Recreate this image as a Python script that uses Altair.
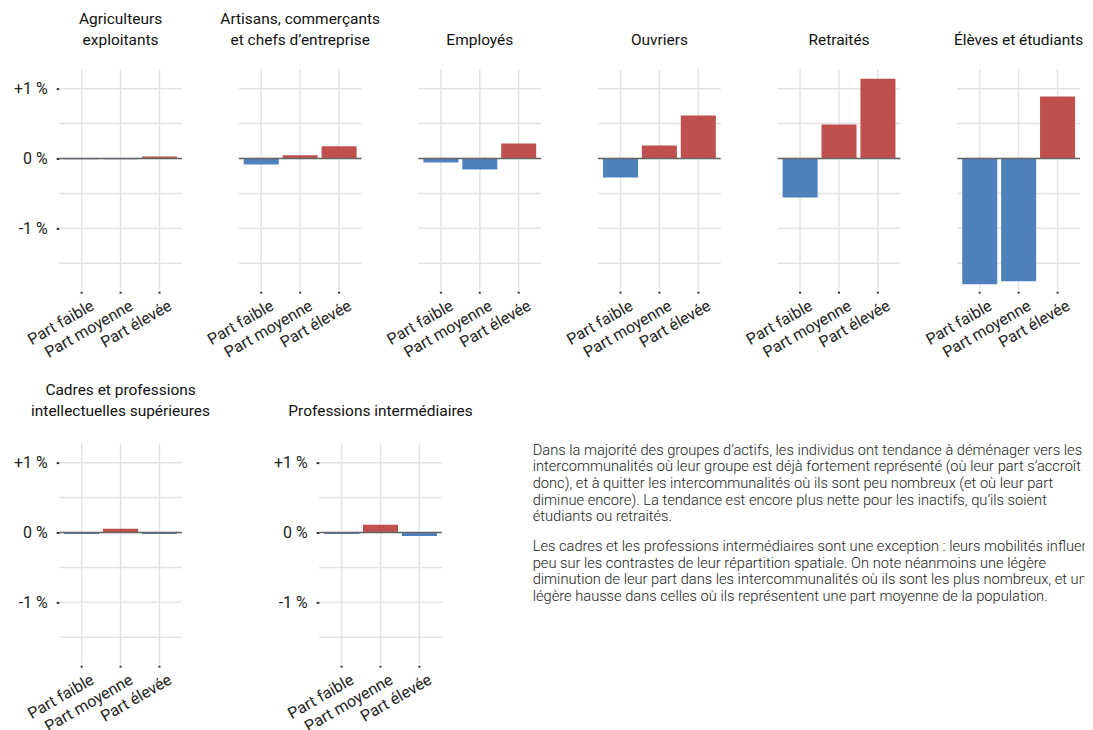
import altair as alt
import pandas as pd

categories = ["Part faible", "Part moyenne", "Part élevée"]

top_titles = [["Agriculteurs", "exploitants"], ["Artisans, commerçants", "et chefs d’entreprise"],
              ["Employés"], ["Ouvriers"], ["Retraités"], ["Élèves et étudiants"]]
bottom_titles = [["Cadres et professions", "intellectuelles supérieures"], ["Professions intermédiaires"]]

# variation of the group's share (points of %) by initial share
values_agri = [-0.01, -0.01, 0.03]
values_artisans = [-0.085, 0.047, 0.176]
values_employes = [-0.057, -0.157, 0.214]
values_ouvriers = [-0.271, 0.186, 0.614]
values_retraites = [-0.557, 0.486, 1.143]
values_eleves = [-1.80, -1.757, 0.886]
values_cadres = [-0.02, 0.053, -0.02]
values_intermediaires = [-0.02, 0.11, -0.05]

top_values = [values_agri, values_artisans, values_employes, values_ouvriers, values_retraites, values_eleves]
bottom_values = [values_cadres, values_intermediaires]

grid_values = [-1.5, -1.0, -0.5, 0.0, 0.5, 1.0]
y_tick_values = [-1, 0, 1]

paragraph1 = [
    "Dans la majorité des groupes d’actifs, les individus ont tendance à déménager vers les",
    "intercommunalités où leur groupe est déjà fortement représenté (où leur part s’accroît",
    "donc), et à quitter les intercommunalités où ils sont peu nombreux (et où leur part",
    "diminue encore). La tendance est encore plus nette pour les inactifs, qu’ils soient",
    "étudiants ou retraités.",
]
paragraph2 = [
    "Les cadres et les professions intermédiaires sont une exception : leurs mobilités influent",
    "peu sur les contrastes de leur répartition spatiale. On note néanmoins une légère",
    "diminution de leur part dans les intercommunalités où ils sont les plus nombreux, et une",
    "légère hausse dans celles où ils représentent une part moyenne de la population.",
]

FONT = "Roboto"
BLUE = "#4f81bd"
RED = "#c0504d"
GRID = "#e3e3e3"
W, H = 123, 221

yscale = alt.Scale(domain=[-1.871, 1.286], nice=False, zero=False)


def panel(title_lines, values, show_y, title_offset):
    df = pd.DataFrame({"cat": categories, "val": values})
    if show_y:
        yaxis = alt.Axis(values=y_tick_values, grid=False, domain=False, ticks=True, tickSize=3,
                         tickWidth=2, tickColor="#333", labelExpr="(datum.value > 0 ? '+' : '') + datum.value + ' %'",
                         labelFont=FONT, labelFontSize=16, labelColor="#222", labelPadding=9, title=None)
    else:
        yaxis = None
    grid = alt.Chart(pd.DataFrame({"g": grid_values})).mark_rule(color=GRID, strokeWidth=1.5).encode(
        y=alt.Y("g:Q", scale=yscale, axis=yaxis)
    )
    bars = alt.Chart(df).transform_calculate(
        sign="datum.val < 0 ? 'neg' : 'pos'"
    ).mark_bar().encode(
        x=alt.X("cat:N", sort=categories,
                scale=alt.Scale(paddingInner=0.1, paddingOuter=0.127),
                axis=alt.Axis(title=None, labelAngle=330, labelAlign="right", labelBaseline="top",
                              grid=True, gridColor=GRID, gridWidth=1.5, bandPosition=0.5,
                              domain=False, ticks=True, tickSize=2, tickWidth=2, tickColor="#333",
                              offset=2, labelPadding=4, labelOffset=7, labelFont=FONT, labelFontSize=16,
                              labelColor="#222")),
        y=alt.Y("val:Q", scale=yscale),
        color=alt.Color("sign:N", scale=alt.Scale(domain=["neg", "pos"], range=[BLUE, RED]), legend=None),
    )
    zero = alt.Chart(pd.DataFrame({"z": [0.0]})).mark_rule(color="#666", strokeWidth=1.5).encode(
        y=alt.Y("z:Q", scale=yscale)
    )
    return alt.layer(grid, bars, zero).properties(
        width=W, height=H,
        title=alt.TitleParams(title_lines, anchor="middle", font=FONT, fontSize=15.5, fontWeight="normal",
                              color="#111", baseline="bottom", offset=title_offset, lineHeight=21),
    )


top_row = alt.hconcat(
    *[panel(t, v, i == 0, 5.5) for i, (t, v) in enumerate(zip(top_titles, top_values))],
    spacing=57, bounds="flush",
)

text_df1 = pd.DataFrame({"t": ["\n".join(paragraph1)]})
text_df2 = pd.DataFrame({"t": ["\n".join(paragraph2)]})
txt1 = alt.Chart(text_df1).mark_text(align="left", baseline="top", lineBreak="\n", lineHeight=16.7,
                                     font=FONT, fontSize=14.7, fontWeight=300, color="#222", clip=True).encode(
    text="t:N", x=alt.value(0), y=alt.value(0))
txt2 = alt.Chart(text_df2).mark_text(align="left", baseline="top", lineBreak="\n", lineHeight=16.7,
                                     font=FONT, fontSize=14.7, fontWeight=300, color="#222", clip=True).encode(
    text="t:N", x=alt.value(0), y=alt.value(96.7))
text_view = alt.layer(txt1, txt2).properties(width=553, height=H)

bottom_panels = alt.hconcat(
    panel(bottom_titles[0], bottom_values[0], True, 8.5),
    panel(bottom_titles[1], bottom_values[1], True, 8.5),
    spacing=137.5, bounds="flush",
)
bottom_row = alt.hconcat(bottom_panels, text_view, spacing=59.5)

chart = alt.vconcat(top_row, bottom_row, spacing=21.8).properties(
    padding={"left": 5.3, "top": 3, "right": 0, "bottom": 3}
).configure_view(stroke=None)

chart.save("out.html", embed_options={"renderer": "svg", "actions": False})
